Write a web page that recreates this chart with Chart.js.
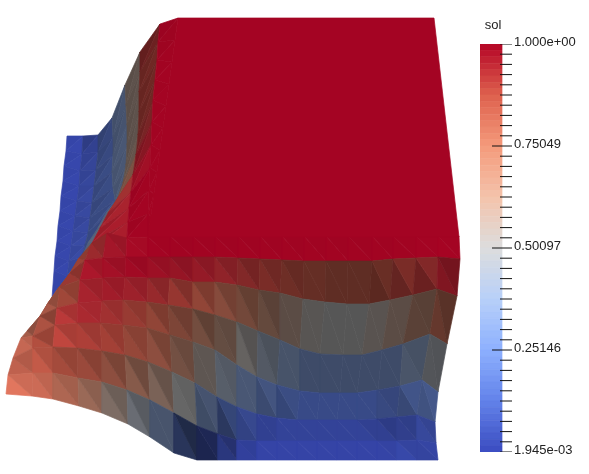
<!DOCTYPE html>
<html><head><meta charset="utf-8">
<style>html,body{margin:0;padding:0;background:#fff;width:589px;height:474px;overflow:hidden}
canvas{position:absolute;display:block}</style>
<script src="https://cdn.jsdelivr.net/npm/chart.js@4"></script>
</head><body>
<canvas id="mesh" width="589" height="474" style="left:0;top:0;width:589px;height:474px"></canvas>
<canvas id="bar" width="109" height="474" style="left:480px;top:0;width:109px;height:474px"></canvas>
<script>
const fieldName = 'sol';
const solMin = 0.001945, solMax = 1;
const tickLabels = ['1.000e+00','0.75049','0.50097','0.25146','1.945e-03'];
const tickValues = [1,0.75049,0.50097,0.25146,0.001945];
const mapStops = [[0,59,76,192],[.125,98,130,234],[.25,141,176,254],[.375,184,208,249],[.5,221,221,221],[.625,244,195,171],[.75,244,154,123],[.875,222,96,77],[1,180,4,38]];

// flat top face
const flatX = [178,434,459,148], flatY = [18,18,237,237], flatValue = 1, flatShade = 91;

// front sheet: projected mesh nodes
const frontX = [
[60,68,79,92,107,127,148,170,193,215,238,260,282,304,326,348,372,393,416,438,459],
[50,57,70,85,103,126,148,170,193,215,238,260,282,304,326,348,372,393,416,438,460],
[40,48,60,80,103,125,148,170,193,215,237,259,280,303,325,347,369,390,413,437,457],
[27,40,57,78,102,123,147,168,193,215,237,258,280,300,320,343,362,382,403,430,447],
[21,33,55,77,100,123,147,170,193,215,237,257,277,300,320,340,357,378,400,422,438],
[13,33,53,77,102,125,148,172,195,217,237,257,277,297,317,337,357,377,397,417,435],
[8,33,53,78,102,127,150,174,197,218,237,257,277,297,317,337,357,377,397,417,436],
[6,32,53,79,102,128,150,174,197,218,237,257,277,297,317,337,357,377,397,417,438]];
const frontY = [
[292,277,258,243,233,238,237,236,236,236,236,236,236,236,236,236,236,236,236,236,236],
[305,290,273,260,258,257,257,257,257,257,258,259,260,261,261,261,261,259,258,257,259],
[318,303,287,280,278,277,278,278,282,282,285,290,293,299,302,304,304,300,295,289,296],
[331,316,308,303,301,300,302,305,309,315,322,331,340,349,354,355,355,350,344,334,344],
[338,336,325,323,323,325,328,335,342,350,365,377,385,391,393,393,393,390,386,380,392],
[358,348,347,348,351,355,362,372,383,397,407,414,418,420,420,420,420,419,417,415,422],
[375,373,373,378,382,390,400,413,426,434,440,441,441,441,441,441,441,441,441,440,443],
[394,396,399,406,413,424,437,453,460,460,460,460,460,460,460,460,460,460,460,460,460]];
const frontSol = [
[.82,.85,.88,.93,.97,.99,1,1,1,1,1,1,1,1,1,1,1,1,1,1],
[.8,.85,.9,.97,.98,.99,.98,.97,.96,.94,.92,.9,.88,.86,.85,.85,.87,.9,.92,.96],
[.78,.82,.87,.95,.96,.95,.93,.9,.85,.8,.75,.68,.6,.52,.5,.5,.54,.6,.68,.8],
[.8,.85,.92,.94,.92,.89,.85,.8,.72,.65,.52,.42,.33,.28,.28,.28,.28,.28,.35,.47],
[.82,.87,.9,.9,.89,.85,.8,.7,.55,.42,.3,.22,.15,.12,.12,.12,.12,.14,.18,.2],
[.83,.86,.86,.85,.8,.72,.62,.5,.3,.15,.08,.03,.03,.03,.03,.03,.03,.03,.04,.05],
[.82,.82,.78,.71,.58,.46,.33,.15,.05,.03,.01,.01,.01,.01,.01,.01,.01,.01,.02,.02]];
const frontLowerShade = [
[68,68,70,76,86,91,91,90,90,90,90,90,90,90,90,90,90,90,91,92],
[70,72,72,90,88,88,84,79,77,72,63,57,50,45,42,42,41,47,51,66],
[70,72,72,85,83,80,74,70,64,57,47,41,38,39,39,39,39,38,37,43],
[70,76,90,85,78,70,64,53,47,41,45,42,42,41,41,41,41,41,42,39],
[85,80,90,81,75,66,60,47,41,44,46,45,50,58,58,58,58,54,48,52],
[83,87,73,68,60,55,50,46,40,40,60,72,75,75,75,75,75,72,68,74],
[97,88,73,63,53,50,43,38,38,62,80,85,85,85,85,85,85,85,85,80]];
const frontUpperShade = [
[62,62,64,70,80,90,90,89,89,89,89,89,89,89,89,89,89,90,91,91],
[62,62,64,83,82,83,79,73,71,65,56,52,46,45,42,42,47,57,63,60],
[60,62,64,79,78,74,67,60,55,49,41,37,38,39,39,39,39,38,36,38],
[60,60,80,82,73,65,55,47,39,39,38,38,42,41,41,41,41,41,40,38],
[80,68,78,73,68,60,51,43,41,42,46,51,55,58,58,58,58,52,56,56],
[77,78,66,60,52,45,42,44,44,50,65,72,75,75,75,75,72,66,66,70],
[88,82,68,57,46,42,43,30,40,55,78,85,85,85,85,85,85,83,80,82]];

// left side sheet: columns run from the flat face outwards
const sideX = [
[178,160,140,125,112,98,83,67],
[175,158,140,126,113,98,82,66],
[172,157,139,127,113,96,80,64],
[169,155,139,127,112,94,79,63],
[166,153,138,126,113,92,77,61],
[163,152,136,123,115,90,75,60],
[160,151,133,117,115,88,73,58],
[157,150,131,108,106,85,71,57],
[154,149,129,100,98,82,69,55],
[151,148,128,92,88,78,67,54],
[148,148,127,85,80,70,60,52]];
const sideY = [
[18,24,52,85,118,135,136,136],
[40,42,72,105,137,152,154,151],
[62,60,92,125,155,170,171,166],
[84,80,112,145,172,186,186,181],
[106,100,135,165,188,203,201,196],
[128,122,155,183,200,218,216,211],
[150,145,175,200,205,233,231,226],
[172,168,192,213,213,245,246,241],
[194,190,208,228,228,257,261,256],
[216,214,222,243,243,268,276,271],
[237,237,238,255,262,280,290,298]];
const sideSol = [
[1,.92,.58,.3,.14,.04,.01],
[1,.9,.58,.3,.14,.04,.01],
[1,.9,.58,.3,.14,.04,.01],
[1,.9,.58,.3,.14,.04,.01],
[1,.92,.6,.3,.14,.04,.01],
[1,.96,.72,.32,.14,.04,.01],
[1,.98,.92,.35,.14,.04,.01],
[1,1,.95,.35,.14,.04,.01],
[1,1,.96,.35,.14,.04,.01],
[1,1,.96,.35,.14,.04,.01]];
const sideLowerShade = [
[88,52,40,44,52,70,88],
[90,52,40,44,54,74,88],
[91,52,40,46,56,76,88],
[91,52,40,46,56,78,88],
[91,58,42,46,56,78,88],
[91,70,50,48,58,78,88],
[91,86,78,50,58,80,88],
[91,90,86,50,58,80,88],
[91,91,88,50,58,80,88],
[91,91,88,50,58,80,88]];
const sideUpperShade = [
[86,48,38,42,48,64,86],
[88,48,38,42,50,70,86],
[90,48,38,44,52,72,86],
[90,48,38,44,52,74,86],
[90,52,40,44,52,74,86],
[90,64,46,46,54,74,86],
[90,80,70,48,54,76,86],
[90,86,76,48,54,76,86],
[90,88,80,48,54,76,86],
[90,88,80,48,54,76,86]];

function solColor(v, shade){
  let i = 0; while (i < mapStops.length-2 && v > mapStops[i+1][0]) i++;
  const a = mapStops[i], b = mapStops[i+1], t = (v-a[0])/(b[0]-a[0]);
  const c = [1,2,3].map(k => Math.round((a[k]+(b[k]-a[k])*t)*shade/100));
  return `rgb(${c[0]},${c[1]},${c[2]})`;
}
function polygon(xs, ys, color){
  const data = xs.map((x,i)=>({x, y:ys[i]}));
  data.push({x:xs[0], y:ys[0]});
  return {data, showLine:true, fill:'shape', tension:0, pointRadius:0, pointHoverRadius:0,
          backgroundColor:color, borderColor:color, borderWidth:.7};
}
function sheet(X, Y, sol, lower, upper, out, flip){
  for (let r = 0; r < sol.length; r++) for (let c = 0; c < sol[r].length; c++) {
    const col = solColor(sol[r][c], lower[r][c]), cu = solColor(sol[r][c], upper[r][c]);
    if (flip) {
      out.push(polygon([X[r][c],X[r+1][c+1],X[r][c+1]],[Y[r][c],Y[r+1][c+1],Y[r][c+1]],cu));
      out.push(polygon([X[r][c],X[r+1][c],X[r+1][c+1]],[Y[r][c],Y[r+1][c],Y[r+1][c+1]],col));
    } else {
      out.push(polygon([X[r][c],X[r+1][c],X[r+1][c+1]],[Y[r][c],Y[r+1][c],Y[r+1][c+1]],col));
      out.push(polygon([X[r][c],X[r+1][c+1],X[r][c+1]],[Y[r][c],Y[r+1][c+1],Y[r][c+1]],cu));
    }
  }
}
const meshSets = [];
// outer strips first, inner strips on top
const sideAll = [];
sheet(sideX, sideY, sideSol, sideLowerShade, sideUpperShade, sideAll, true);
const inner = [], outer = [];
sideAll.forEach((d,i)=>{ const strip = Math.floor(i/2)%7; (strip>=3?outer:inner).push({d,strip}); });
outer.sort((a,b)=>b.strip-a.strip).forEach(o=>meshSets.push(o.d));
inner.sort((a,b)=>b.strip-a.strip).forEach(o=>meshSets.push(o.d));
sheet(frontX, frontY, frontSol, frontLowerShade, frontUpperShade, meshSets, false);
meshSets.push(polygon(flatX, flatY, solColor(flatValue, flatShade)));
meshSets.reverse();

new Chart(document.getElementById('mesh'), {
  type:'scatter',
  data:{datasets:meshSets},
  options:{responsive:false, animation:false, events:[], layout:{padding:0},
    plugins:{legend:{display:false}, tooltip:{enabled:false}},
    scales:{x:{type:'linear',min:0,max:589,display:false},
            y:{type:'linear',min:0,max:474,reverse:true,display:false}}}
});

// colour bar
const bandCount = 64, minorPerMajor = 10;
const barSets = [];
const barRight = 22/32, majorStart = 12/32, minorStart = 20/32;
const step = (solMax-solMin)/bandCount;
const tickLine = (from, v) => ({data:[{x:from,y:v},{x:1,y:v}], showLine:true, pointRadius:0, borderColor:'#111', borderWidth:1, tension:0});
const minorCount = (tickValues.length-1)*minorPerMajor;
for (let i = 0; i <= minorCount; i++) {
  const v = solMin + (solMax-solMin)*i/minorCount;
  barSets.push(tickLine(i%minorPerMajor===0 && i>0 && i<minorCount ? majorStart : minorStart, v));
}
for (let i = 0; i < bandCount; i++) {
  const lo = solMin+i*step, hi = lo+step;
  barSets.push(polygon([0,barRight,barRight,0],[lo,lo,hi,hi], solColor((i+.5)/bandCount,100)));
}
new Chart(document.getElementById('bar'), {
  type:'scatter',
  data:{datasets:barSets},
  options:{responsive:false, animation:false, events:[], layout:{padding:{top:0,bottom:22,left:0,right:0}},
    plugins:{legend:{display:false}, tooltip:{enabled:false}},
    scales:{
      x:{type:'linear',position:'top',min:0,max:1,
         grid:{display:false,drawTicks:false,tickLength:0},border:{display:false},
         afterBuildTicks:s=>{s.ticks=[{value:.41}]},
         afterFit:s=>{s.height=44;s.paddingLeft=0;s.paddingRight=0},
         ticks:{callback:()=>fieldName,autoSkip:false,maxRotation:0,padding:11,color:'#222',font:{family:'Liberation Sans',size:13}}},
      y:{type:'linear',position:'right',min:solMin,max:solMax,
         grid:{display:false,drawTicks:false,tickLength:0},border:{display:false},
         afterBuildTicks:s=>{s.ticks=tickValues.map(value=>({value}))},
         afterFit:s=>{s.width=77;s.paddingTop=0;s.paddingBottom=0},
         ticks:{callback:(v)=>tickLabels[tickValues.indexOf(v)],autoSkip:false,padding:2,labelOffset:-2,color:'#222',font:{family:'Liberation Sans',size:13}}}
    }}
});
</script>
</body></html>
